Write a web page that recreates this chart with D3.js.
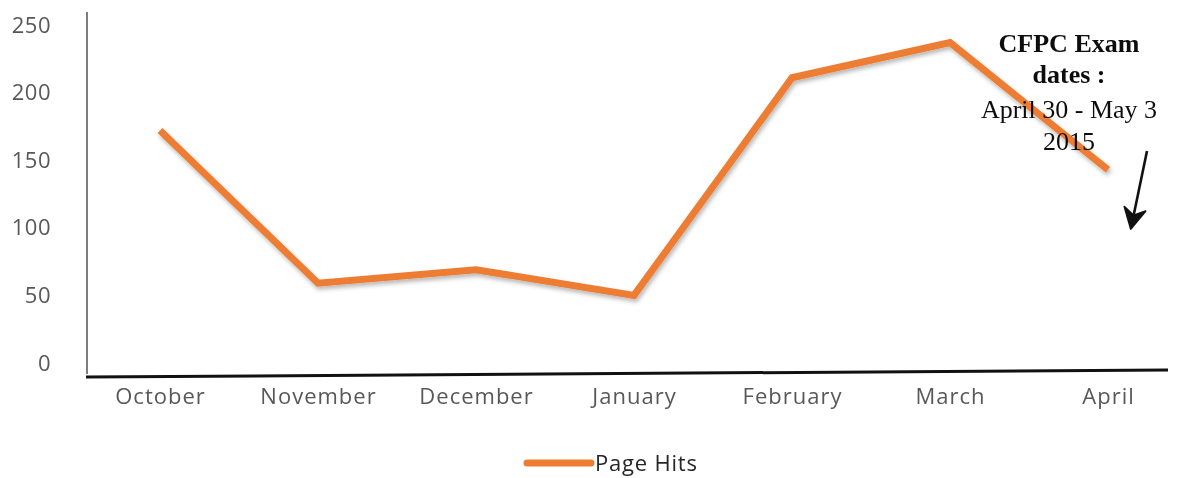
<!DOCTYPE html>
<html>
<head>
<meta charset="utf-8">
<script src="https://cdn.jsdelivr.net/npm/d3@7"></script>
<style>
  html, body { margin: 0; padding: 0; background: #fff; }
  svg { display: block; }
</style>
</head>
<body>
<svg id="chart" width="1193" height="478"></svg>
<script>
// Monthly page hits
const months = ["October", "November", "December", "January", "February", "March", "April"];
const pageHits = [172, 59, 69, 50, 211, 237, 143];
const yTicks = [0, 50, 100, 150, 200, 250];
const seriesName = "Page Hits";
const noteLines = [
  { text: "CFPC Exam", bold: true },
  { text: "dates :", bold: true },
  { text: "April 30 - May 3", bold: false },
  { text: "2015", bold: false }
];

const svg = d3.select("#chart");
const orange = "#ED7D31";
const labelFont = "'Open Sans', Lato, sans-serif";

const x = d3.scalePoint().domain(months).range([160, 1108]);
const y = d3.scaleLinear().domain([0, 250]).range([363, 25]);

const defs = svg.append("defs");
const shadow = defs.append("filter").attr("id", "lineShadow")
  .attr("x", "-10%").attr("y", "-10%").attr("width", "120%").attr("height", "130%");
shadow.append("feDropShadow")
  .attr("dx", 1.5).attr("dy", 3).attr("stdDeviation", 2.2)
  .attr("flood-color", "#000").attr("flood-opacity", 0.28);

const soft = defs.append("filter").attr("id", "soft");
soft.append("feGaussianBlur").attr("stdDeviation", 0.4);

defs.append("marker").attr("id", "arrowHead")
  .attr("viewBox", "0 0 12 12").attr("refX", 10).attr("refY", 6)
  .attr("markerUnits", "userSpaceOnUse")
  .attr("markerWidth", 26).attr("markerHeight", 26)
  .attr("orient", "auto")
  .append("path").attr("d", "M1,1 L10.5,6 L1,11 L4,6 Z")
  .attr("fill", "#111").attr("stroke", "#111").attr("stroke-width", 0.8)
  .attr("stroke-linejoin", "round");

// Y axis: tick labels only, with a plain vertical rule
const yAxis = d3.axisLeft(y).tickValues(yTicks).tickSize(0).tickPadding(0);
const gy = svg.append("g").attr("transform", "translate(51,0)").call(yAxis);
gy.select(".domain").remove();
gy.selectAll("text")
  .attr("font-family", labelFont).attr("font-size", 22)
  .attr("letter-spacing", 0.5)
  .attr("fill", "#595959").attr("filter", "url(#soft)");

svg.append("line")
  .attr("x1", 87).attr("x2", 87).attr("y1", 12).attr("y2", 374)
  .attr("stroke", "#6f6f6f").attr("stroke-width", 1.8);

// X axis: heavy baseline with month labels
const xAxis = d3.axisBottom(x).tickSize(0).tickPadding(12);
const gx = svg.append("g").attr("transform", "translate(0,376)").call(xAxis);
gx.select(".domain").remove();
gx.selectAll("text")
  .attr("font-family", labelFont).attr("font-size", 22)
  .attr("letter-spacing", 1)
  .attr("fill", "#595959").attr("filter", "url(#soft)");

svg.append("line")
  .attr("x1", 86).attr("x2", 1168).attr("y1", 377).attr("y2", 370)
  .attr("stroke", "#111").attr("stroke-width", 3);

// Series line
const line = d3.line()
  .x((d, i) => x(months[i]))
  .y(d => y(d));

svg.append("path")
  .datum(pageHits)
  .attr("d", line)
  .attr("fill", "none")
  .attr("stroke", orange)
  .attr("stroke-width", 7)
  .attr("stroke-linejoin", "miter")
  .attr("filter", "url(#lineShadow)");

// Exam dates note
const note = svg.append("text")
  .attr("text-anchor", "middle")
  .attr("font-family", "'Liberation Serif', 'Times New Roman', serif")
  .attr("font-size", 26)
  .attr("fill", "#111")
  .attr("filter", "url(#soft)");
const noteY = [52, 83, 118, 150];
noteLines.forEach((l, i) => {
  note.append("tspan")
    .attr("x", 1069).attr("y", noteY[i])
    .attr("font-weight", l.bold ? "bold" : "normal")
    .text(l.text);
});

svg.append("line")
  .attr("x1", 1147).attr("y1", 151).attr("x2", 1131).attr("y2", 228)
  .attr("stroke", "#111").attr("stroke-width", 2.6)
  .attr("marker-end", "url(#arrowHead)");

// Legend
const legend = svg.append("g");
legend.append("line")
  .attr("x1", 527).attr("x2", 591).attr("y1", 463).attr("y2", 463)
  .attr("stroke", orange).attr("stroke-width", 7).attr("stroke-linecap", "round");
legend.append("text")
  .attr("x", 595).attr("y", 471)
  .attr("font-family", labelFont).attr("font-size", 22)
  .attr("letter-spacing", 0.8)
  .attr("fill", "#262626").attr("filter", "url(#soft)")
  .text(seriesName);
</script>
</body>
</html>
